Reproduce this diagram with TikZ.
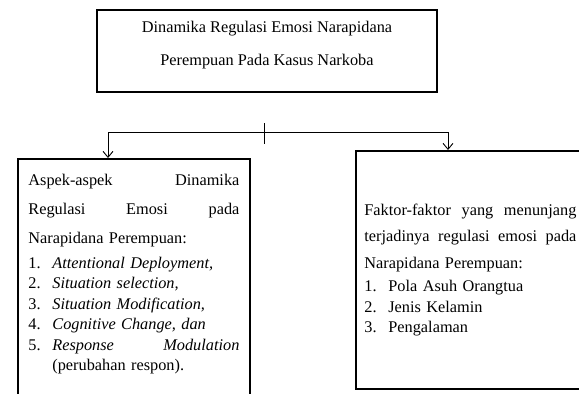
\documentclass[tikz,border=0pt]{standalone}
\usepackage{fontspec}
\setmainfont{Liberation Serif}
\usetikzlibrary{arrows.meta}
\tikzstyle{kotak}=[draw, line width=1.8pt, font=\fontsize{16.3}{20.4}\selectfont]
\tikzstyle{panah}=[line width=0.9pt, -{Straight Barb[length=6pt,width=10pt]}]
\newcommand{\butir}[1]{\makebox[24pt][l]{#1.}}

\begin{document}
\begin{tikzpicture}[x=1pt,y=-1pt]
\useasboundingbox (0,0) rectangle (579,394);
\clip (0,0) rectangle (579,394);
\node[kotak, anchor=north, align=center, minimum width=340pt, inner ysep=11.4pt, text depth=15pt] (judul) at (267,9) {Dinamika Regulasi Emosi Narapidana\\[12.6pt] Perempuan Pada Kasus Narkoba};
\node[kotak, anchor=north west, text width=211pt, align=left, inner xsep=10.5pt, inner ysep=15pt, text depth=250pt] (aspek) at (17,158) {Aspek-aspek\hfill Dinamika\\[8.6pt]
Regulasi\hfill Emosi\hfill pada\\[8.6pt]
Narapidana Perempuan:\\[4.9pt]
\butir{1}\textit{Attentional Deployment,}\\
\butir{2}\textit{Situation selection,}\\
\butir{3}\textit{Situation Modification,}\\
\butir{4}\textit{Cognitive Change, dan}\\
\butir{5}\textit{Response}\hfill\textit{Modulation}\\
\hspace*{24pt}(perubahan respon).};
\node[kotak, anchor=north west, text width=212pt, align=left, inner xsep=8.5pt, minimum height=238pt] (faktor) at (355,150) {Faktor-faktor\hfill yang\hfill menunjang\\[6.1pt]
terjadinya\hfill regulasi\hfill emosi\hfill pada\\[6.1pt]
Narapidana Perempuan:\\[3.3pt]
\butir{1}Pola Asuh Orangtua\\
\butir{2}Jenis Kelamin\\
\butir{3}Pengalaman};
\coordinate (cabang) at (264,132);
\draw[line width=0.9pt] ([yshift=9pt]cabang) -- ([yshift=-12pt]cabang);
\draw[panah] (cabang) -| ([xshift=91pt]aspek.north west);
\draw[panah] (cabang) -| ([xshift=93pt]faktor.north west);
\end{tikzpicture}
\end{document}
